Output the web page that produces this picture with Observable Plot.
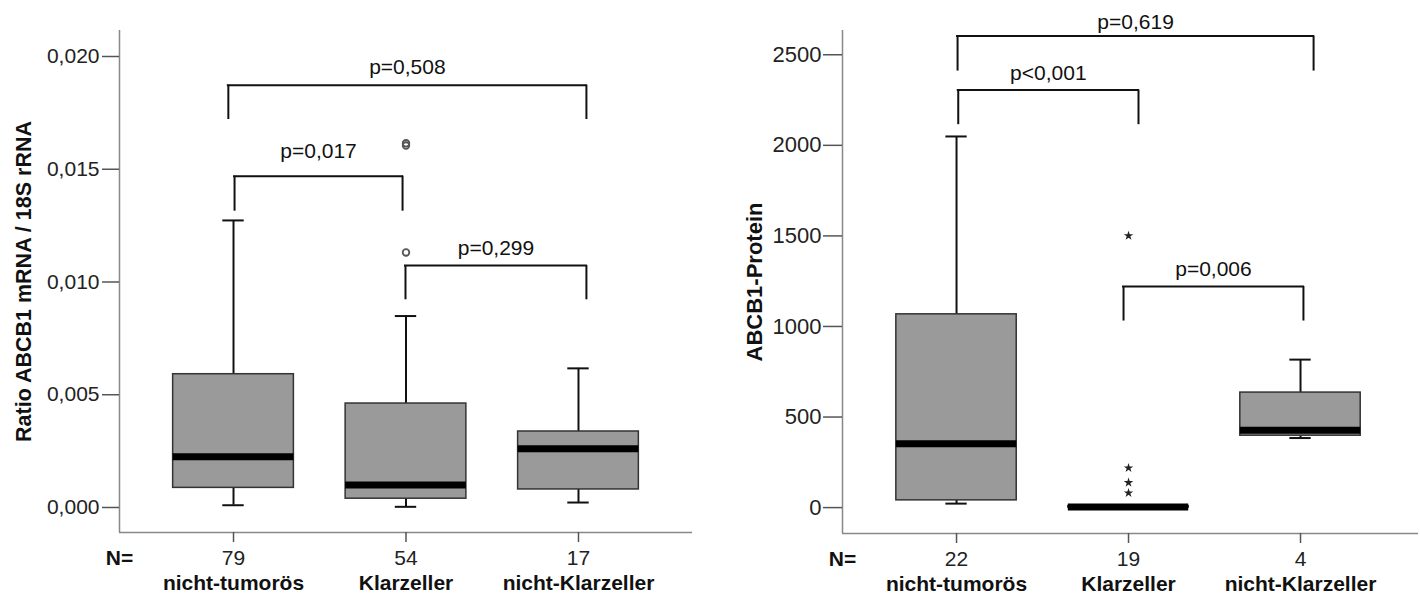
<!DOCTYPE html>
<html><head><meta charset="utf-8">
<script src="https://cdn.jsdelivr.net/npm/d3@7"></script>
<script src="https://cdn.jsdelivr.net/npm/@observablehq/plot@0.6"></script>
<style>
body{margin:0;background:#fff;}
#wrap{display:flex;width:1420px;height:599px;overflow:hidden;}
svg{display:block;overflow:visible}
</style></head><body><div id="wrap"></div>
<script>
const categories = ["nicht-tumorös", "Klarzeller", "nicht-Klarzeller"];

// Left panel: Ratio ABCB1 mRNA / 18S rRNA
const mrnaN = [79, 54, 17];
const mrnaMin = [0.0001, 0.00003, 0.00022];
const mrnaQ1 = [0.00087, 0.00039, 0.0008];
const mrnaMedian = [0.00225, 0.0010, 0.0026];
const mrnaQ3 = [0.00591, 0.00461, 0.00337];
const mrnaMax = [0.01273, 0.00849, 0.00617];
const mrnaOutlierGroup = [1, 1, 1];
const mrnaOutlierValue = [0.01615, 0.01605, 0.01131];
const mrnaTicks = [0, 0.005, 0.010, 0.015, 0.020];
const mrnaBracketFrom = [-0.03, 0.006, 0.997];
const mrnaBracketTo = [2.046, 0.98, 2.046];
const mrnaBracketTop = [0.018728, 0.014692, 0.010732];
const mrnaBracketFoot = [0.017206, 0.013140, 0.009211];
const mrnaBracketLabelY = [0.019535, 0.015796, 0.011486];
const mrnaBracketLabel = ["p=0,508", "p=0,017", "p=0,299"];

// Right panel: ABCB1-Protein
const protN = [22, 19, 4];
const protMin = [22, 0, 384];
const protQ1 = [40, 0, 397];
const protMedian = [353, 3, 427];
const protQ3 = [1067, 8, 635];
const protMax = [2049, 12, 817];
const protOutlierGroup = [1, 1, 1, 1];
const protOutlierValue = [1501, 219, 138, 81];
const protTicks = [0, 500, 1000, 1500, 2000, 2500];
const protBracketFrom = [0.006, 0.01, 0.971];
const protBracketTo = [2.076, 1.058, 2.017];
const protBracketTop = [2603, 2305, 1221];
const protBracketFoot = [2410, 2114, 1030];
const protBracketLabelY = [2681, 2400, 1315];
const protBracketLabel = ["p=0,619", "p<0,001", "p=0,006"];

function panel(o) {
  const idx = categories.map((_, i) => i);
  const boxes = idx.map(i => ({i, min: o.min[i], q1: o.q1[i], med: o.med[i], q3: o.q3[i], max: o.max[i]}));
  const outliers = o.outG.map((g, k) => ({i: g, v: o.outV[k]}));
  const brackets = o.bFrom.map((f, k) => ({f, t: o.bTo[k], top: o.bTop[k], foot: o.bFoot[k], ly: o.bLabelY[k], label: o.bLabel[k]}));
  const half = 0.35, cap = 0.062;
  const font = "'Liberation Sans', Arial, sans-serif";
  return Plot.plot({
    width: 710, height: 599,
    marginLeft: o.ml, marginRight: o.mr, marginTop: 30, marginBottom: o.mb,
    style: {fontFamily: font, color: "#222", background: "#fff", overflow: "visible"},
    x: {type: "linear", domain: o.xDomain, axis: null},
    y: {type: "linear", domain: o.yDomain, axis: null},
    marks: [
      Plot.ruleX([o.xDomain[0]], {stroke: "#888", strokeWidth: 1.5}),
      Plot.ruleY([o.yDomain[0]], {stroke: "#888", strokeWidth: 1.5}),
      Plot.axisY({ticks: o.yTicks, tickFormat: o.yFormat, tickSize: o.tickSize, tickPadding: o.tickPad, fontSize: o.tickFont, stroke: "#555", fill: "#222", strokeWidth: 1.5}),
      Plot.axisX({ticks: idx, tickFormat: i => String(o.n[i]), tickSize: 10, tickPadding: 8, fontSize: 21, stroke: "#555", fill: "#222", strokeWidth: 1.5}),
      Plot.axisX({ticks: idx, tickFormat: i => categories[i], tickSize: 0, tickPadding: 43, fontSize: 21, fontWeight: "bold", fill: "#111"}),
      Plot.text(["N="], {x: [o.xDomain[0]], y: [o.yDomain[0]], text: d => d, dy: 26, fontSize: 21, fontWeight: "bold", fill: "#111"}),
      Plot.text([o.title], {frameAnchor: "left", dx: o.titleDx, rotate: -90, textAnchor: "middle", lineAnchor: "middle", text: d => d, fontSize: o.titleFont, fontWeight: "bold", fill: "#111"}),
      // whiskers
      Plot.ruleX(boxes, {x: "i", y1: "q3", y2: "max", stroke: "#111", strokeWidth: 2}),
      Plot.ruleX(boxes, {x: "i", y1: "min", y2: "q1", stroke: "#111", strokeWidth: 2}),
      Plot.ruleY(boxes, {y: "max", x1: d => d.i - cap, x2: d => d.i + cap, stroke: "#111", strokeWidth: 2}),
      Plot.ruleY(boxes, {y: "min", x1: d => d.i - cap, x2: d => d.i + cap, stroke: "#111", strokeWidth: 2}),
      // boxes
      Plot.rect(boxes, {x1: d => d.i - half, x2: d => d.i + half, y1: "q1", y2: "q3", fill: "#9a9a9a", stroke: "#333", strokeWidth: 1.5}),
      Plot.ruleY(boxes, {y: "med", x1: d => d.i - half, x2: d => d.i + half, stroke: "#000", strokeWidth: 7}),
      // outliers
      o.star
        ? Plot.dot(outliers, {x: "i", y: "v", symbol: "star", r: 3, fill: "#222", stroke: "none"})
        : Plot.dot(outliers, {x: "i", y: "v", r: 3.3, fill: "none", stroke: "#555", strokeWidth: 1.8}),
      // significance brackets
      Plot.ruleY(brackets, {y: "top", x1: "f", x2: "t", stroke: "#111", strokeWidth: 2, strokeLinecap: "square"}),
      Plot.ruleX(brackets, {x: "f", y1: "foot", y2: "top", stroke: "#111", strokeWidth: 2}),
      Plot.ruleX(brackets, {x: "t", y1: "foot", y2: "top", stroke: "#111", strokeWidth: 2}),
      Plot.text(brackets, {x: d => (d.f + d.t) / 2, y: "ly", text: "label", fontSize: 21, fill: "#111"})
    ]
  });
}

const left = panel({
  n: mrnaN, min: mrnaMin, q1: mrnaQ1, med: mrnaMedian, q3: mrnaQ3, max: mrnaMax,
  outG: mrnaOutlierGroup, outV: mrnaOutlierValue, star: false,
  bFrom: mrnaBracketFrom, bTo: mrnaBracketTo, bTop: mrnaBracketTop, bFoot: mrnaBracketFoot,
  bLabelY: mrnaBracketLabelY, bLabel: mrnaBracketLabel,
  yTicks: mrnaTicks, yFormat: d => d.toFixed(3).replace(".", ","),
  tickSize: 17, tickPad: 3, tickFont: 21,
  xDomain: [-0.661, 2.661], yDomain: [-0.001109, 0.021153],
  ml: 119, mr: 18, mb: 67, title: "Ratio ABCB1 mRNA / 18S rRNA", titleDx: -95, titleFont: 21.5
});
const right = panel({
  n: protN, min: protMin, q1: protQ1, med: protMedian, q3: protQ3, max: protMax,
  outG: protOutlierGroup, outV: protOutlierValue, star: true,
  bFrom: protBracketFrom, bTo: protBracketTo, bTop: protBracketTop, bFoot: protBracketFoot,
  bLabelY: protBracketLabelY, bLabel: protBracketLabel,
  yTicks: protTicks, yFormat: d => String(d),
  tickSize: 19, tickPad: 2, tickFont: 22,
  xDomain: [-0.663, 2.686], yDomain: [-143, 2634],
  ml: 132, mr: 2, mb: 66, title: "ABCB1-Protein", titleDx: -88, titleFont: 22
});
document.getElementById("wrap").append(left, right);
</script>
</body></html>
